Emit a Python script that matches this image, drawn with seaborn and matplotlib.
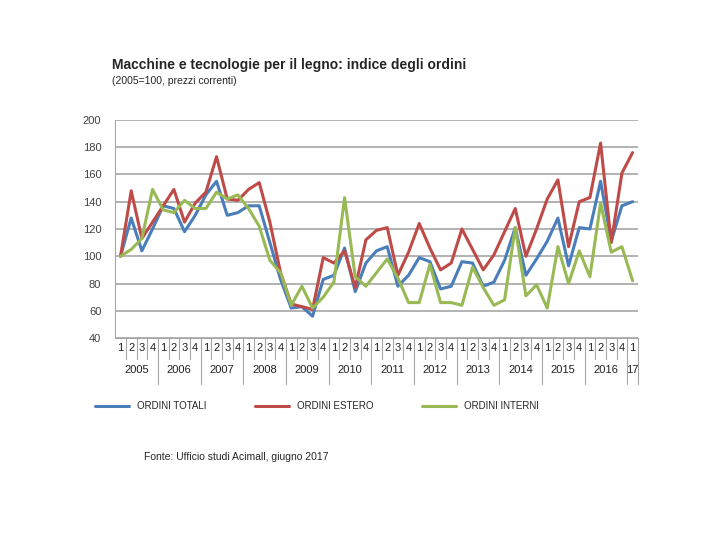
import numpy as np
import pandas as pd
import matplotlib
matplotlib.use("Agg")
import matplotlib.pyplot as plt
import matplotlib.transforms as mtransforms
import seaborn as sns

# Quarterly data 2005Q1 .. 2017Q1
years = ['2005', '2006', '2007', '2008', '2009', '2010', '2011',
         '2012', '2013', '2014', '2015', '2016', '17']
quarters = ['1', '2', '3', '4']

ordini_totali = [100, 128, 104, 120, 137, 135, 118, 130, 145, 155, 130, 132,
                 137, 137, 110, 83, 62, 63, 56, 83, 86, 106, 74, 95,
                 104, 107, 78, 86, 99, 96, 76, 78, 96, 95, 78, 81,
                 97, 121, 86, 98, 111, 128, 93, 121, 120, 155, 111, 137, 140]
ordini_estero = [100, 148, 113, 125, 137, 149, 125, 139, 147, 173, 142, 141,
                 149, 154, 125, 88, 65, 63, 61, 99, 95, 104, 77, 112,
                 119, 121, 86, 103, 124, 106, 90, 95, 120, 105, 90, 101,
                 118, 135, 100, 120, 142, 156, 107, 140, 143, 183, 110, 161, 176]
ordini_interni = [100, 105, 113, 149, 134, 132, 141, 135, 135, 147, 142, 145,
                  135, 122, 97, 88, 64, 78, 62, 70, 81, 143, 85, 78,
                  88, 98, 84, 66, 66, 94, 66, 66, 64, 92, 77, 64,
                  68, 121, 71, 79, 62, 107, 80, 104, 85, 139, 103, 107, 82]

n = len(ordini_totali)
df = pd.DataFrame({
    'idx': np.tile(np.arange(n), 3),
    'value': ordini_totali + ordini_estero + ordini_interni,
    'serie': ['ORDINI TOTALI'] * n + ['ORDINI ESTERO'] * n + ['ORDINI INTERNI'] * n,
})
palette = {'ORDINI TOTALI': '#4a7ebb', 'ORDINI ESTERO': '#be4b48', 'ORDINI INTERNI': '#98b954'}

sns.set_style('white')
plt.rcParams['font.family'] = ['Liberation Sans', 'DejaVu Sans']

fig = plt.figure(figsize=(7.2, 5.4), dpi=100)
ax = fig.add_axes([0.160, 0.374, 0.726, 0.404])
sns.lineplot(data=df, x='idx', y='value', hue='serie', palette=palette,
             linewidth=2.2, ax=ax, legend=False)

ax.set_xlim(-0.5, n - 0.5)
ax.set_ylim(40, 200)
ax.set_yticks(range(40, 201, 20))
ax.yaxis.grid(True, color='#a6a6a6', linewidth=1.2)
ax.set_axisbelow(True)
ax.tick_params(axis='y', labelsize=8, colors='#404040', length=0, pad=10)
ax.set_xticks([])
ax.set_xlabel('')
ax.set_ylabel('')
for s in ['top', 'right', 'bottom']:
    ax.spines[s].set_visible(False)
ax.spines['left'].set_color('#a6a6a6')
ax.spines['bottom'].set_visible(True)
ax.spines['bottom'].set_color('#a6a6a6')

# two-level category axis
trans = mtransforms.blended_transform_factory(ax.transData, ax.transAxes)
for i in range(n):
    ax.text(i, -0.045, quarters[i % 4], transform=trans, ha='center', va='center',
            fontsize=8, color='#202020')
    if i > 0:
        ylow = -0.21 if i % 4 == 0 else -0.095
        ax.plot([i - 0.5, i - 0.5], [0, ylow], transform=trans, color='#a6a6a6',
                linewidth=0.8, clip_on=False)
for k, y in enumerate(years):
    start = 4 * k
    end = min(start + 3, n - 1)
    ax.text((start + end) / 2, -0.145, y, transform=trans, ha='center', va='center',
            fontsize=8, color='#202020')
ax.plot([n - 0.5, n - 0.5], [0, -0.21], transform=trans, color='#a6a6a6',
        linewidth=0.8, clip_on=False)

# legend
handles = [plt.Line2D([], [], color=palette[k], linewidth=2.2) for k in palette]
fig.legend(handles, list(palette), loc='center', bbox_to_anchor=(0.44, 0.248),
           ncol=3, frameon=False, fontsize=7, handlelength=3.5, columnspacing=5)

fig.text(0.155, 0.872, 'Macchine e tecnologie per il legno: indice degli ordini',
         fontsize=10, fontweight='bold')
fig.text(0.155, 0.845, '(2005=100, prezzi correnti)', fontsize=7.5)
fig.text(0.2, 0.148, 'Fonte: Ufficio studi Acimall, giugno 2017', fontsize=7.5)

fig.savefig('out.png', dpi=100)
